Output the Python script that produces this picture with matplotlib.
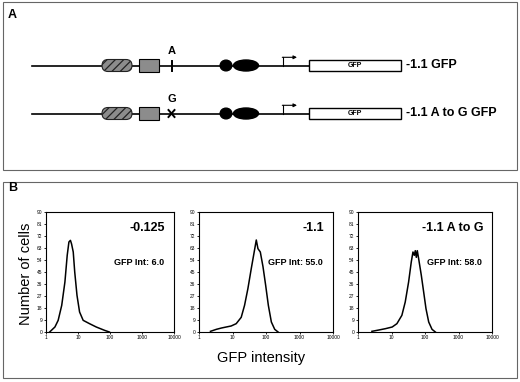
import matplotlib
matplotlib.use('Agg')
import matplotlib.pyplot as plt
from matplotlib.patches import Rectangle, Ellipse, FancyBboxPatch

plt.rcParams['font.family'] = ['Liberation Sans', 'DejaVu Sans']
plt.rcParams['hatch.linewidth'] = 0.9

# flow cytometry histograms (GFP intensity, number of cells)
hist_titles = ['-0.125', '-1.1', '-1.1 A to G']
gfp_int = ['GFP Int: 6.0', 'GFP Int: 55.0', 'GFP Int: 58.0']

x_0125 = [1.3, 1.9, 2.4, 3.1, 3.9, 4.6, 5.2, 5.8, 6.3, 7.1, 7.9, 9.3, 11.2,
          14.5, 22.9, 37.2, 67.6, 95.5]
y_0125 = [0, 3.75, 8.75, 20, 37.5, 57.5, 67.5, 68.75, 66, 60, 45, 27.5, 15,
          8.75, 6.25, 3.75, 1.25, 0]

x_11 = [2.2, 3.3, 4.7, 6.5, 9.1, 12.9, 18.2, 22.9, 28.8, 36.3, 43.7, 51.3,
        57.5, 67.6, 81.3, 97.7, 117.5, 144.5, 182, 229]
y_11 = [0.5, 2, 3, 3.75, 4.5, 6.25, 11, 20, 32.5, 47.5, 59, 69, 62.5, 60, 49,
        35, 20, 7.5, 2, 0]

x_ag = [2.6, 4.2, 6.6, 10.5, 14.5, 20.4, 25.7, 32.4, 38.9, 43.7, 47.9, 51.3,
        55, 58.9, 64.6, 77.6, 91.2, 107, 129, 162, 204]
y_ag = [0.5, 1.5, 2.5, 3.75, 6.25, 12.5, 22.5, 37.5, 52.5, 60, 57.5, 61, 56,
        61, 55, 42.5, 30, 17.5, 7.5, 2, 0]

y_ticks = [0, 9, 18, 27, 36, 45, 54, 63, 72, 81, 90]
x_ticks = [1, 10, 100, 1000, 10000]
x_ticklabels = ['1', '10', '100', '1000', '10000']

constructs = ['-1.1 GFP', '-1.1 A to G GFP']
site_labels = ['A', 'G']

W, H = 520, 382
fig = plt.figure(figsize=(W / 100, H / 100), dpi=100)

# background canvas in pixel coords for the panel frames and the schematic
bg = fig.add_axes([0, 0, 1, 1])
bg.set_xlim(0, W)
bg.set_ylim(H, 0)
bg.axis('off')

for y0, y1 in [(2, 170), (182, 378)]:
    bg.add_patch(Rectangle((3, y0), 514, y1 - y0, fill=False,
                           edgecolor='#666666', lw=0.8))
bg.text(8, 15, 'A', fontsize=9, fontweight='bold', va='center')
bg.text(8, 188, 'B', fontsize=9, fontweight='bold', va='center')

# panel A: promoter constructs
for i, (name, site) in enumerate(zip(constructs, site_labels)):
    yc = 65.5 + i * 48
    bg.plot([32, 309], [yc, yc], color='black', lw=1.2, zorder=1)
    bg.add_patch(FancyBboxPatch((102, yc - 6), 30, 12,
                                boxstyle='round,pad=0,rounding_size=6',
                                facecolor='#8c8c8c', edgecolor='#222222',
                                hatch='////', lw=0.8, zorder=2))
    bg.add_patch(Rectangle((138.5, yc - 6.8), 20.5, 13.3, facecolor='#8c8c8c',
                           edgecolor='black', lw=0.8, zorder=2))
    if site == 'A':
        bg.plot([171.5, 171.5], [yc - 5, yc + 5], color='black', lw=1.4, zorder=3)
    else:
        bg.plot([168.5, 174.5], [yc - 3.5, yc + 3.5], color='black', lw=1.4, zorder=3)
        bg.plot([168.5, 174.5], [yc + 3.5, yc - 3.5], color='black', lw=1.4, zorder=3)
    bg.text(171.8, yc - 14.5, site, fontsize=8, fontweight='bold',
            ha='center', va='center')
    bg.add_patch(Ellipse((226, yc), 11.7, 10.7, color='black', zorder=2))
    bg.add_patch(Ellipse((246, yc), 25, 11, color='black', zorder=2))
    bg.plot([282.7, 282.7], [yc, yc - 8.2], color='black', lw=0.8)
    bg.annotate('', xy=(297, yc - 8.2), xytext=(282.3, yc - 8.2),
                arrowprops=dict(arrowstyle='-|>', lw=0.8, color='black',
                                mutation_scale=5, shrinkA=0, shrinkB=0))
    bg.add_patch(Rectangle((309.3, yc - 5.8), 91.4, 11.6, facecolor='white',
                           edgecolor='black', lw=1.0, zorder=2))
    bg.text(355, yc, 'GFP', fontsize=5, fontweight='bold', ha='center',
            va='center', zorder=3)
    bg.text(406.5, yc, name, fontsize=9, fontweight='bold', va='center')

# panel B: histograms
boxes = [(46, 174), (199, 333), (358, 492)]
series = [(x_0125, y_0125), (x_11, y_11), (x_ag, y_ag)]
top, bottom = 212, 332
for (l, r), (xs, ys), title, gi in zip(boxes, series, hist_titles, gfp_int):
    ax = fig.add_axes([l / W, (H - bottom) / H, (r - l) / W, (bottom - top) / H])
    ax.plot(xs, ys, color='black', lw=1.1)
    ax.set_xscale('log')
    ax.set_xlim(1, 10000)
    ax.set_ylim(0, 90)
    ax.set_xticks(x_ticks)
    ax.set_xticklabels(x_ticklabels)
    ax.minorticks_off()
    ax.set_yticks(y_ticks)
    ax.tick_params(labelsize=3.5, length=1.5, width=0.6, pad=1)
    for s in ax.spines.values():
        s.set_linewidth(0.8)
    ax.text(1 - 9 / (r - l), 0.87, title, transform=ax.transAxes, ha='right',
            va='center', fontsize=9, fontweight='bold')
    ax.text(1 - 10 / (r - l), 0.58, gi, transform=ax.transAxes, ha='right',
            va='center', fontsize=6.5, fontweight='bold')

bg.text(26, 274, 'Number of cells', fontsize=10.5, rotation=90,
        ha='center', va='center')
bg.text(261, 358, 'GFP intensity', fontsize=10.5, ha='center', va='center')

fig.savefig('out.png', dpi=100)
